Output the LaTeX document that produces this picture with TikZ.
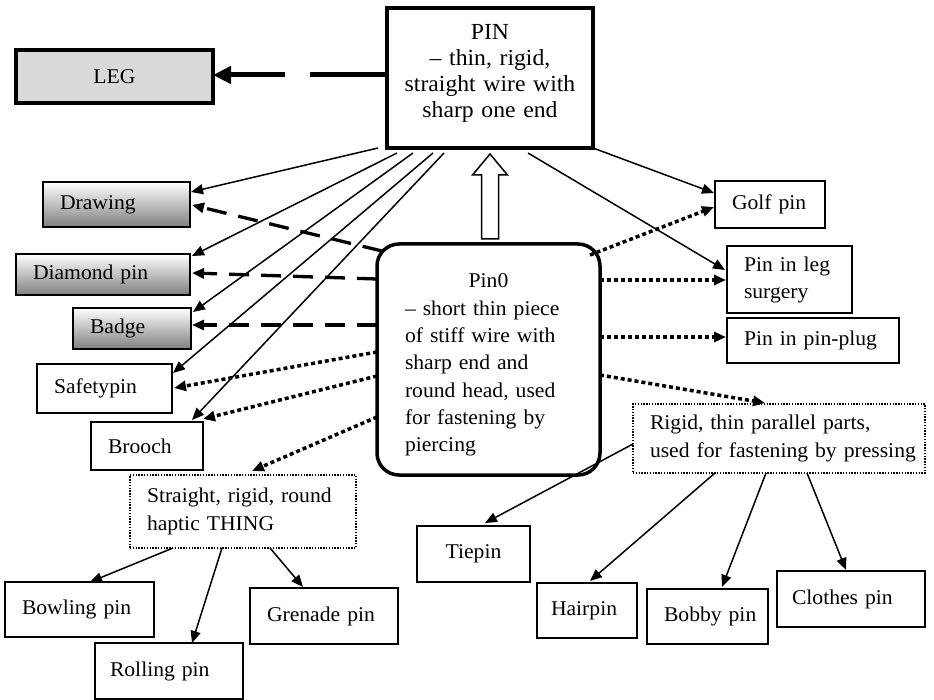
\documentclass[tikz,border=0pt]{standalone}
\usepackage{fontspec}
\setmainfont[FakeStretch=1.03]{Liberation Serif}
\usetikzlibrary{arrows.meta,calc}
\begin{document}
\begin{tikzpicture}[x=1pt,y=-1pt,
  font=\fontsize{21}{26.5}\selectfont,
  every node/.style={outer sep=0pt},
  box/.style={draw, line width=2pt, inner xsep=17pt, inner ysep=0pt, align=left},
  shadedbox/.style={box, top color=white, bottom color=black!50},
  heavybox/.style={draw, line width=3.5pt, inner sep=0pt},
  dotbox/.style={box, line width=1.4pt, dash pattern=on 1.4pt off 1.4pt},
  tip/.style={-{Triangle[length=12pt,width=10pt]}},
  link/.style={tip, line width=1.5pt},
  dashlink/.style={tip, line width=3.3pt, dash pattern=on 20pt off 12pt},
  dotlink/.style={tip, line width=3.5pt, dash pattern=on 4pt off 3pt},
]
\fill[white] (0,0) rectangle (934,700);
\useasboundingbox (0,0) rectangle (934,700);

% main concepts
\node[heavybox, line width=4pt, minimum width=206pt, minimum height=140pt,
      text width=200pt, align=center, text depth=93pt,
      font=\fontsize{23}{26}\selectfont] (pin) at (490,78)
  {\mbox{PIN}\\\mbox{– thin, rigid,}\\\mbox{straight wire with}\\\mbox{sharp one end}};
\node[heavybox, fill=black!15, minimum width=197pt, minimum height=53pt] (leg) at (114.5,76.5) {LEG};
\node[heavybox, rounded corners=22pt, minimum width=223pt, minimum height=231pt,
      inner xsep=28pt, text width=167pt, align=left, text height=25pt,
      font=\fontsize{21}{27.3}\selectfont] (pin0) at (488.5,359.5)
  {\mbox{}\hfill Pin0\hfill\mbox{}\\\mbox{– short thin piece}\\\mbox{of stiff wire with}\\\mbox{sharp end and}\\\mbox{round head, used}\\\mbox{for fastening by}\\\mbox{piercing}};

% left column
\node[shadedbox, minimum width=147pt, minimum height=45pt, text width=113pt] (drawing) at (116.5,204.5) {\mbox{Drawing}};
\node[shadedbox, minimum width=174pt, minimum height=41pt, text width=140pt] (diamond) at (103,274.5) {\mbox{Diamond pin}};
\node[shadedbox, minimum width=118pt, minimum height=41pt, text width=84pt] (badge) at (132,328.5) {\mbox{Badge}};
\node[box, minimum width=135pt, minimum height=49pt, text width=101pt] (safety) at (104.5,388.5) {\mbox{Safetypin}};
\node[box, minimum width=112pt, minimum height=48pt, text width=78pt] (brooch) at (147,446) {\mbox{Brooch}};

% right column
\node[box, minimum width=110pt, minimum height=47pt, text width=76pt] (golf) at (770,204.5) {\mbox{Golf pin}};
\node[box, minimum width=125pt, minimum height=67pt, text width=91pt,
      font=\fontsize{21}{27}\selectfont] (surgery) at (789.5,279.5) {\mbox{Pin in leg}\\\mbox{surgery}};
\node[box, minimum width=172pt, minimum height=45pt, text width=138pt] (plug) at (813,340.5) {\mbox{Pin in pin-plug}};

% grouping boxes
\node[dotbox, minimum width=292pt, minimum height=69pt, text width=258pt,
      font=\fontsize{21}{28}\selectfont] (rigid) at (779,438.5)
  {\mbox{Rigid, thin parallel parts,}\\\mbox{used for fastening by pressing}};
\node[dotbox, minimum width=226pt, minimum height=73pt, text width=192pt,
      font=\fontsize{21}{28}\selectfont] (thing) at (243,511.5)
  {\mbox{Straight, rigid, round}\\\mbox{haptic THING}};

% bottom row
\node[box, minimum width=113pt, minimum height=56pt, align=center] (tiepin) at (473.5,554) {Tiepin};
\node[box, inner xsep=14pt, minimum width=100pt, minimum height=55pt, text width=72pt] (hairpin) at (587,610.5) {\mbox{Hairpin}};
\node[box, minimum width=121pt, minimum height=55pt, text width=87pt] (bobby) at (707.5,616.5) {\mbox{Bobby pin}};
\node[box, inner xsep=15pt, minimum width=148pt, minimum height=56pt, text width=118pt] (clothes) at (851,599) {\mbox{Clothes pin}};
\node[box, minimum width=149pt, minimum height=55pt, text width=115pt] (bowling) at (79.5,609.5) {\mbox{Bowling pin}};
\node[box, inner xsep=15pt, minimum width=148pt, minimum height=56pt, text width=118pt] (rolling) at (169,671) {\mbox{Rolling pin}};
\node[box, minimum width=148pt, minimum height=56pt, text width=114pt] (grenade) at (324,616) {\mbox{Grenade pin}};

% PIN -> LEG
\draw[line width=5pt, -{Triangle[length=18pt,width=17pt]}, dash pattern=on 77pt off 25pt on 300pt]
  ($(pin.west)+(0,-3)$) -- ($(leg.east)+(0,-1.5)$);

% Pin0 -> PIN (hollow arrow)
\coordinate (ua) at ($(pin.south)+(0,6)$);
\coordinate (ub) at ($(pin0.north)+(1.5,-5)$);
\draw[line width=1.5pt, fill=white, line join=miter]
  ($(ub)+(-8.5,0)$) -- ($(ua)+(-8.5,21)$) -- ($(ua)+(-17.5,21)$) -- (ua)
  -- ($(ua)+(17.5,21)$) -- ($(ua)+(8.5,21)$) -- ($(ub)+(8.5,0)$) -- cycle;

% PIN -> kinds
\draw[link] ($(pin.north west)+(-9,140)$) -- ($(drawing.north west)+(148,10)$);
\draw[link] ($(pin.north west)+(10,145)$) -- ($(diamond.north west)+(176,2)$);
\draw[link] ($(pin.north west)+(26,145)$) -- ($(badge.north west)+(120,4)$);
\draw[link] ($(pin.north west)+(46,145)$) -- ($(safety.north west)+(136,9)$);
\draw[link] ($(pin.north west)+(57,145)$) -- ($(brooch.north west)+(101,-2)$);
\draw[link] (pin.south east) -- ($(golf.north west)+(-1,12)$);
\draw[link] ($(pin.north west)+(141,145)$) -- ($(surgery.north west)+(-2,24)$);

% Pin0 -> kinds
\draw[dashlink] ($(pin0.north west)+(5,7)$) -- ($(drawing.north west)+(149,23)$);
\draw[dashlink] ($(pin0.north west)+(0,35)$) -- ($(diamond.north west)+(176,19)$);
\draw[dashlink] ($(pin0.north west)+(0,81)$) -- ($(badge.north west)+(119,17)$);
\draw[dotlink] ($(pin0.north west)+(0,108)$) -- ($(safety.north west)+(137,24)$);
\draw[dotlink] ($(pin0.north west)+(0,132)$) -- ($(brooch.north west)+(112,-3)$);
\draw[dotlink] ($(pin0.north west)+(0,173)$) -- ($(thing.north west)+(122,-4)$);
\draw[dotlink] ($(pin0.north west)+(213,11)$) -- ($(golf.north west)+(-1,26)$);
\draw[dotlink] ($(pin0.north east)+(0,36)$) -- ($(surgery.north west)+(-1,34)$);
\draw[dotlink] ($(pin0.north east)+(0,93)$) -- ($(plug.north west)+(-1,19)$);
\draw[dotlink] ($(pin0.north east)+(0,131)$) -- ($(rigid.north west)+(132,-1)$);

% pressing fasteners
\draw[link] ($(rigid.north west)+(0,40)$) -- ($(tiepin.north west)+(68,-3)$);
\draw[link] ($(rigid.north west)+(82,69)$) -- ($(hairpin.north west)+(53,-2)$);
\draw[link] ($(rigid.north west)+(133,69)$) -- ($(bobby.north west)+(75,-2)$);
\draw[link] ($(rigid.north west)+(174,69)$) -- ($(clothes.north west)+(69,-1)$);

% haptic things
\draw[link] ($(thing.north west)+(43,73)$) -- ($(bowling.north west)+(85,0)$);
\draw[link] ($(thing.north west)+(92,73)$) -- ($(rolling.north west)+(97,0)$);
\draw[link] ($(thing.north west)+(140,73)$) -- ($(grenade.north west)+(53,-1)$);
\end{tikzpicture}
\end{document}
